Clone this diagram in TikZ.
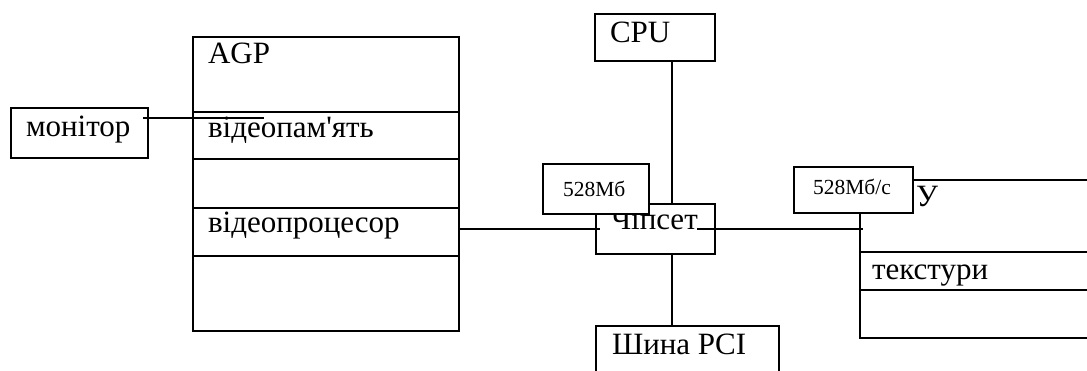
\documentclass[tikz,border=0pt]{standalone}
\usepackage{fontspec}
\setmainfont{Liberation Serif}
\usetikzlibrary{positioning}

\begin{document}
\begin{tikzpicture}[x=1pt,y=-1pt,line width=2pt,
  box node/.style={draw,fill=white,rectangle,inner sep=0pt,anchor=north west},
  main text/.style={anchor=base west,inner sep=0pt,font=\fontsize{31}{36}\selectfont},
  small text/.style={anchor=base west,inner sep=0pt,font=\fontsize{21.5}{26}\selectfont}]

  \useasboundingbox (0,0) rectangle (1087,371);
  \clip (0,0) rectangle (1087,371);

  \node[box node,minimum width=137,minimum height=50] (mon) at (10,107) {};
  \node[box node,minimum width=266,minimum height=75] (agptop) at (192,36) {};
  \node[box node,minimum width=266,minimum height=47] (vmem) at (192,111) {};
  \node[box node,minimum width=266,minimum height=49] (agpgap) at (192,158) {};
  \node[box node,minimum width=266,minimum height=48] (vproc) at (192,207) {};
  \node[box node,minimum width=266,minimum height=75] (agpbot) at (192,255) {};
  \node[box node,minimum width=120,minimum height=47] (cpu) at (594,13) {};
  \node[box node,minimum width=119,minimum height=50] (chip) at (595,203) {};
  \node[box node,minimum width=183,minimum height=100] (pci) at (595,325) {};
  \node[box node,minimum width=250,minimum height=72] (ramtop) at (859,179) {};
  \node[box node,minimum width=250,minimum height=38] (tex) at (859,251) {};
  \node[box node,minimum width=250,minimum height=48] (rambot) at (859,289) {};

  \node[main text] (montxt) at (25,137) {монітор};
  \node[main text] (agptxt) at (207,64) {AGP};
  \node[main text] (vmemtxt) at (207,138) {відеопам\textquotesingle ять};
  \node[main text] (vproctxt) at (207,233) {відеопроцесор};
  \node[main text] (cputxt) at (609,43) {CPU};
  \node[main text] (chiptxt) at (610,230) {Чіпсет};
  \node[main text] (pcitxt) at (611,355) {Шина PCI};
  \node[main text] (ramtxt) at (915,207) {У};
  \node[main text] (textxt) at (871,280) {текстури};

  \coordinate (monout) at (143,118);
  \coordinate (vmemin) at (264,118);
  \coordinate (chipin) at (600,229);
  \coordinate (chipout) at (697,229);
  \coordinate (ramin) at (863,229);
  \coordinate (bus) at (672,0);

  \draw (monout) -- (vmemin);
  \draw (vproc.east |- chipin) -- (chipin);
  \draw (chipout) -- (ramin);
  \draw (cpu.south -| bus) -- (chip.north -| bus);
  \draw (chip.south -| bus) -- (pci.north -| bus);

  \node[box node,minimum width=106,minimum height=50] (speedl) at (542,163) {};
  \node[small text] (speedltxt) at (562,197) {528Мб};
  \node[box node,minimum width=119,minimum height=46] (speedr) at (793,166) {};
  \node[small text] (speedrtxt) at (812,195) {528Мб/с};
\end{tikzpicture}
\end{document}
